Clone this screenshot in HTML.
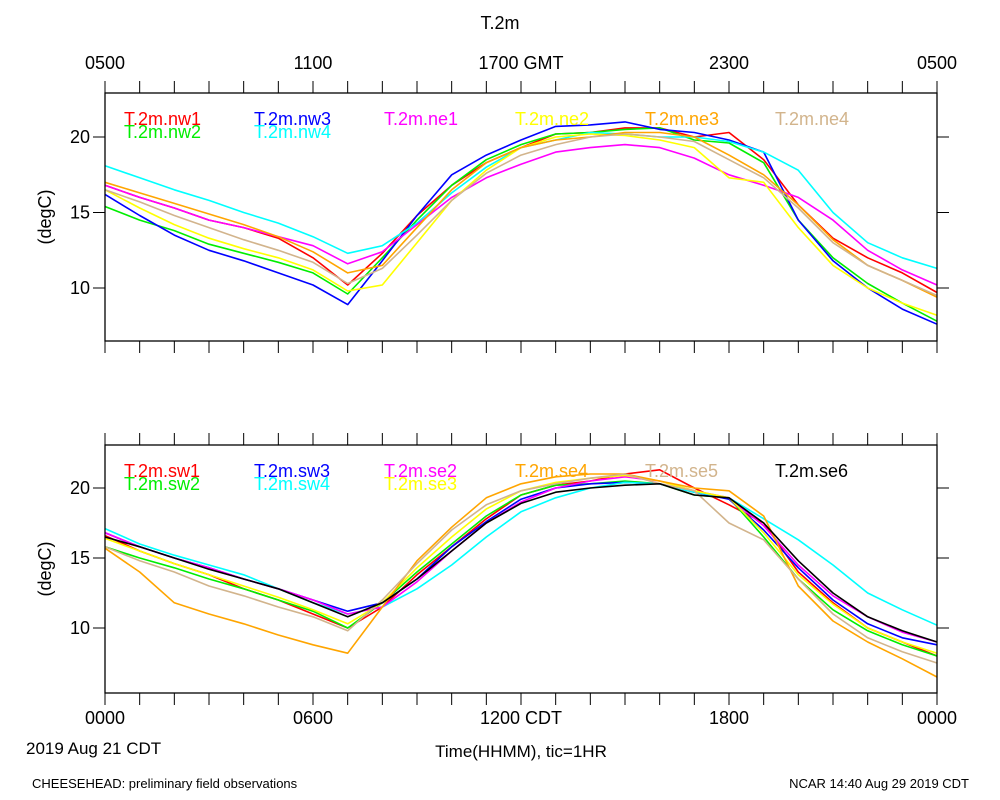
<!DOCTYPE html>
<html><head><meta charset="utf-8"><style>
body{margin:0;background:#fff;}
svg{display:block;font-family:"Liberation Sans",sans-serif;}
</style></head><body>
<svg id="chart" width="1000" height="800" viewBox="0 0 1000 800"></svg>
<script>
const hours=[0,1,2,3,4,5,6,7,8,9,10,11,12,13,14,15,16,17,18,19,20,21,22,23,24];
const topTicks=["0500","1100","1700 GMT","2300","0500"];
const botTicks=["0000","0600","1200 CDT","1800","0000"];
const yTickVals=[10,15,20];
const topNames=["T.2m.nw1","T.2m.nw2","T.2m.nw3","T.2m.nw4","T.2m.ne1","T.2m.ne2","T.2m.ne3","T.2m.ne4"];
const topColors=["#ff0000","#00ee00","#0000ff","#00ffff","#ff00ff","#ffff00","#ffa500","#d2b48c"];
const nw1=[16.8,16.0,15.3,14.5,14.0,13.3,12.0,10.2,12.3,14.8,16.8,18.3,19.3,20.2,20.3,20.6,20.6,20.0,20.3,18.5,15.5,13.3,12.0,11.0,9.7];
const nw2=[15.4,14.5,13.8,12.9,12.3,11.7,11.0,9.6,12.0,14.5,16.8,18.5,19.5,20.2,20.3,20.5,20.6,19.8,19.6,18.3,14.5,12.0,10.3,9.0,7.8];
const nw3=[16.2,14.8,13.5,12.5,11.8,11.0,10.2,8.9,11.8,14.8,17.5,18.8,19.8,20.7,20.8,21.0,20.5,20.3,19.8,19.0,14.5,11.8,10.0,8.6,7.6];
const nw4=[18.1,17.3,16.5,15.8,15.0,14.3,13.4,12.3,12.8,14.3,16.3,18.0,19.3,19.8,20.3,20.2,20.0,20.0,19.7,19.0,17.8,15.0,13.0,12.0,11.3];
const ne1=[16.8,16.0,15.3,14.5,14.0,13.4,12.8,11.6,12.4,14.2,16.0,17.3,18.2,19.0,19.3,19.5,19.3,18.6,17.5,16.8,16.0,14.5,12.5,11.2,10.2];
const ne2=[16.5,15.3,14.2,13.3,12.6,12.0,11.2,9.8,10.2,13.0,15.8,17.8,19.3,20.0,20.2,20.1,19.8,19.3,17.3,17.0,14.0,11.5,10.0,9.0,8.2];
const ne3=[17.0,16.3,15.6,14.9,14.2,13.4,12.4,11.0,11.5,14.0,16.5,18.3,19.3,19.8,20.0,20.3,20.3,20.0,18.8,17.5,15.5,13.2,11.5,10.5,9.4];
const ne4=[16.5,15.7,14.8,14.0,13.2,12.5,11.7,10.3,11.3,13.5,15.8,17.6,18.8,19.5,20.0,20.2,20.0,19.7,18.5,17.3,15.3,13.0,11.5,10.5,9.5];
const botNames=["T.2m.sw1","T.2m.sw2","T.2m.sw3","T.2m.sw4","T.2m.se2","T.2m.se3","T.2m.se4","T.2m.se5","T.2m.se6"];
const botColors=["#ff0000","#00ee00","#0000ff","#00ffff","#ff00ff","#ffff00","#ffa500","#d2b48c","#000000"];
const sw1=[16.6,15.5,14.6,13.8,12.8,12.0,11.0,10.0,11.5,13.8,15.8,17.8,19.5,20.2,20.5,21.0,21.3,20.0,18.8,17.5,14.0,11.8,10.0,9.0,8.0];
const sw2=[15.8,15.0,14.3,13.5,12.8,12.0,11.2,10.0,11.8,14.0,16.0,18.0,19.5,20.2,20.3,20.5,20.3,19.5,19.3,16.5,13.5,11.3,9.8,8.8,8.0];
const sw3=[16.8,15.8,15.0,14.3,13.5,12.8,12.0,11.2,11.8,13.5,15.8,17.6,19.2,20.0,20.3,20.4,20.3,19.7,19.2,17.0,14.3,12.0,10.3,9.3,8.8];
const sw4=[17.1,16.0,15.2,14.5,13.8,12.8,11.8,11.0,11.5,12.8,14.5,16.5,18.3,19.3,20.0,20.4,20.3,19.7,19.3,17.8,16.3,14.5,12.5,11.3,10.2];
const se2=[16.8,15.8,15.0,14.3,13.5,12.8,12.0,11.0,11.5,13.3,15.5,17.5,19.0,20.0,20.5,20.8,20.5,19.8,19.3,17.3,14.5,12.3,10.8,9.7,9.0];
const se3=[16.4,15.5,14.6,13.8,13.0,12.2,11.3,10.3,11.8,14.3,16.5,18.5,19.8,20.4,20.7,20.9,20.5,19.8,19.3,16.8,13.8,11.7,10.0,9.0,8.2];
const se4=[15.7,14.0,11.8,11.0,10.3,9.5,8.8,8.2,11.5,14.8,17.2,19.3,20.3,20.8,21.0,21.0,20.5,20.0,19.8,18.0,13.0,10.5,9.0,7.8,6.5];
const se5=[15.8,14.8,14.0,13.0,12.3,11.5,10.8,9.8,12.0,14.6,17.0,18.8,19.8,20.3,20.7,21.0,20.3,19.8,17.5,16.3,13.5,11.0,9.3,8.3,7.5];
const se6=[16.5,15.8,15.0,14.2,13.5,12.8,11.8,10.8,11.8,13.5,15.5,17.5,18.9,19.7,20.0,20.2,20.3,19.5,19.3,17.5,14.8,12.5,10.8,9.8,9.0];
const topSeries=[nw1,nw2,nw3,nw4,ne1,ne2,ne3,ne4];
const botSeries=[sw1,sw2,sw3,sw4,se2,se3,se4,se5,se6];

const NS="http://www.w3.org/2000/svg";
const svg=document.getElementById('chart');
function mk(tag,attrs,parent){const e=document.createElementNS(NS,tag);for(const k in attrs)e.setAttribute(k,attrs[k]);(parent||svg).appendChild(e);return e;}
const X0=105,X1=937;
function xs(h){return X0+(h/24)*(X1-X0);}
const panels=[
 {top:93,bot:341,y20:137,ppd:15.1,series:topSeries,names:topNames,colors:topColors,key:'top',legX:[124,124,254,254,384,515,645,775],legRow:[0,1,0,1,0,0,0,0]},
 {top:445,bot:693,y20:488,ppd:14.0,series:botSeries,names:botNames,colors:botColors,key:'bottom',legX:[124,124,254,254,384,384,515,645,775],legRow:[0,1,0,1,0,1,0,0,0]}
];
function txt(s,x,y,size,anchor,fill,g){const t=mk('text',{x:x,y:y,'font-size':size,'text-anchor':anchor||'start',fill:fill||'#000'},g);t.textContent=s;return t;}

panels.forEach(p=>{
  const g=mk('g',{});
  
  
  const ys=v=>p.y20+(20-v)*p.ppd;
  p.series.forEach((arr,i)=>{
    const pts=arr.map((v,j)=>xs(hours[j]).toFixed(1)+','+ys(v).toFixed(1)).join(' ');
    const pl=mk('polyline',{points:pts,fill:'none',stroke:p.colors[i],'stroke-width':1.6,'stroke-linejoin':'round'},g);
    
    
  });
  const fr=mk('rect',{x:X0,y:p.top,width:X1-X0,height:p.bot-p.top,fill:'none',stroke:'#000','stroke-width':1.3},g);
  
  
  hours.forEach(h=>{
    const x=xs(h);
    mk('line',{x1:x,y1:p.top,x2:x,y2:p.top-12,stroke:'#000','stroke-width':1},g);
    mk('line',{x1:x,y1:p.bot,x2:x,y2:p.bot+12,stroke:'#000','stroke-width':1},g);
  });
  yTickVals.forEach(v=>{
    const y=ys(v);
    mk('line',{x1:X0,y1:y,x2:X0-12,y2:y,stroke:'#000','stroke-width':1},g);
    mk('line',{x1:X1,y1:y,x2:X1+12,y2:y,stroke:'#000','stroke-width':1},g);
    const t=txt(String(v),90,y+6,18,'end','#000',g);
    
    
  });
  const yt=txt('(degC)',0,0,18,'middle','#000',g);
  yt.setAttribute('transform','translate(51,'+((p.top+p.bot)/2)+') rotate(-90)');
  
  
  p.names.forEach((n,i)=>{
    const t=txt(n,p.legX[i],125+p.legRow[i]*13+(p.top-93),18,'start',p.colors[i],g);
    
    
  });
});
topTicks.forEach((s,i)=>{
  const t=txt(s,xs(i*6),69,18,'middle');
  
  
});
botTicks.forEach((s,i)=>{
  const t=txt(s,xs(i*6),724,18,'middle');
  
  
});
let t;
t=txt('T.2m',500,29,18,'middle');
t=txt('2019 Aug 21 CDT',26,754,17,'start');
t=txt('Time(HHMM), tic=1HR',521,757,17,'middle');
t=txt('CHEESEHEAD: preliminary field observations',32,788,13,'start');
t=txt('NCAR 14:40 Aug 29 2019 CDT',969,788,13,'end');
</script>
</body></html>
